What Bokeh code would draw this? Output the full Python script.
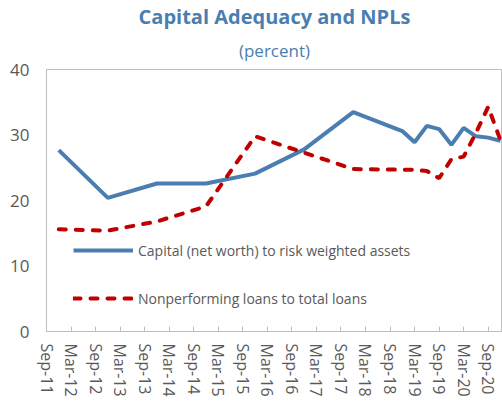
import pandas as pd
from bokeh.plotting import figure
from bokeh.models import FixedTicker, Title, Legend, LegendItem, ColumnDataSource, Range1d
from bokeh.embed import file_html
from bokeh.resources import INLINE

# ---- data ----
dates = ["Dec-11", "Dec-12", "Dec-13", "Dec-14", "Dec-15", "Dec-16", "Dec-17", "Dec-18",
         "Mar-19", "Jun-19", "Sep-19", "Dec-19", "Mar-20", "Jun-20", "Sep-20", "Dec-20"]
capital = [27.7, 20.4, 22.6, 22.6, 24.1, 27.8, 33.5, 30.6,
           28.9, 31.4, 30.9, 28.5, 31.1, 29.8, 29.6, 29.1]
npl = [15.6, 15.4, 16.8, 19.1, 29.8, 27.3, 24.8, 24.7,
       24.7, 24.5, 23.4, 26.3, 26.7, 30.3, 34.3, 29.2]
tick_labels = ["Sep-11", "Mar-12", "Sep-12", "Mar-13", "Sep-13", "Mar-14", "Sep-14", "Mar-15",
               "Sep-15", "Mar-16", "Sep-16", "Mar-17", "Sep-17", "Mar-18", "Sep-18", "Mar-19",
               "Sep-19", "Mar-20", "Sep-20"]
y_ticks = [0, 10, 20, 30, 40]

base = pd.Timestamp("2011-09-01")


def months(label):
    t = pd.to_datetime(label, format="%b-%y")
    return (t.year - base.year) * 12 + (t.month - base.month)


x_data = [months(d) for d in dates]
x_ticks = [months(t) for t in tick_labels]

src = ColumnDataSource(dict(x=x_data, cap=capital, npl=npl))

FONT = "Open Sans"
GRAY = "#595959"
LINE_GRAY = "#bfbfbf"
BLUE = "#4a7eb0"
RED = "#c00000"

p = figure(width=502, height=404, output_backend="svg", toolbar_location=None,
           x_range=Range1d(0, 111.5), y_range=Range1d(0, 40),
           min_border_left=46, min_border_right=0, min_border_top=66, min_border_bottom=73)

p.add_layout(Title(text="(percent)", align="center", text_font=FONT, text_font_size="17px",
                   text_font_style="normal", text_color=BLUE, standoff=15), "above")
p.add_layout(Title(text="Capital Adequacy and NPLs", align="center", text_font=FONT,
                   text_font_size="20px", text_font_style="bold", text_color=BLUE,
                   standoff=0), "above")

r1 = p.line("x", "cap", source=src, line_color=BLUE, line_width=4)
r2 = p.line("x", "npl", source=src, line_color=RED, line_width=4, line_dash="7 10",
            line_cap="round")

p.xgrid.visible = False
p.ygrid.visible = False
p.outline_line_color = LINE_GRAY
p.outline_line_width = 1

p.xaxis.ticker = FixedTicker(ticks=x_ticks)
p.xaxis.major_label_overrides = {t: l for t, l in zip(x_ticks, tick_labels)}
p.xaxis.major_label_orientation = "vertical"
p.xaxis.minor_tick_line_color = None
p.xaxis.major_tick_in = 5
p.xaxis.major_tick_out = 0
p.xaxis.major_tick_line_color = LINE_GRAY
p.xaxis.axis_line_color = LINE_GRAY
p.xaxis.major_label_standoff = 12
p.xaxis.major_label_text_font_size = "16px"

p.yaxis.ticker = FixedTicker(ticks=y_ticks)
p.yaxis.minor_tick_line_color = None
p.yaxis.major_tick_in = 0
p.yaxis.major_tick_out = 0
p.yaxis.axis_line_color = LINE_GRAY
p.yaxis.major_label_standoff = 17
p.yaxis.major_label_text_font_size = "17px"

for ax in (p.xaxis, p.yaxis):
    ax.major_label_text_font = FONT
    ax.major_label_text_color = GRAY

legend = Legend(items=[LegendItem(label="Capital (net worth) to risk weighted assets", renderers=[r1]),
                       LegendItem(label="Nonperforming loans to total loans", renderers=[r2])],
                location=(27, 23), orientation="vertical", spacing=28,
                glyph_width=60, glyph_height=20, label_height=20, label_standoff=5,
                padding=0, margin=0, background_fill_alpha=0, border_line_color=None,
                label_text_font=FONT, label_text_font_size="14px", label_text_color=GRAY)
p.add_layout(legend)

open("out.html", "w").write(file_html(p, INLINE))
